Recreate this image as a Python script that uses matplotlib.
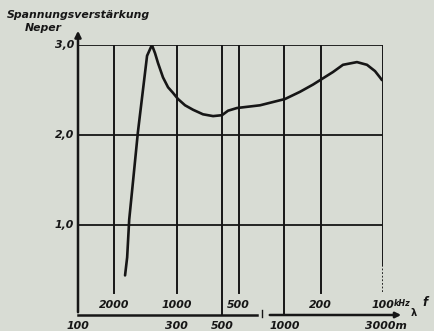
import matplotlib
matplotlib.use("Agg")
import matplotlib.pyplot as plt
import numpy as np

# Data
wavelength_m = [169, 173, 177, 185, 195, 216, 228, 236, 244, 258, 273, 288, 305, 330,
                361, 403, 451, 498, 533, 589, 761, 1006, 1189, 1374, 1536, 1718, 1920,
                2244, 2509, 2744, 2900, 2966]
gain_neper = [0.44, 0.64, 1.06, 1.50, 2.03, 2.88, 3.00, 2.91, 2.80, 2.64, 2.53, 2.47,
              2.40, 2.33, 2.28, 2.23, 2.21, 2.22, 2.27, 2.30, 2.33, 2.40, 2.48, 2.56,
              2.63, 2.70, 2.78, 2.81, 2.78, 2.71, 2.64, 2.61]
wavelength_ticks = [100, 300, 500, 1000, 3000]
wavelength_labels = ["100", "300", "500", "1000", "3000m"]
freq_ticks_khz = [2000, 1000, 500, 200, 100]
y_ticks = [1.0, 2.0, 3.0]
y_labels = ["1,0", "2,0", "3,0"]

bg = "#d8dcd4"
ink = "#161616"
fnt = dict(fontsize=7.8, fontweight="bold", fontstyle="italic", color=ink)

fig = plt.figure(figsize=(4.35, 3.31), dpi=100, facecolor=bg)
ax = fig.add_axes([78/435, 16/331, (383-78)/435, (315-45)/331])
ax.set_facecolor(bg)
ax.set_xscale("log")
ax.set_xlim(100, 3000)
ax.set_ylim(0, 3)
ax.axis("off")

def lx(px):
    """wavelength at a pixel offset px from the left axis"""
    return 100 * 10**(px / 206.5)

# horizontal grid
for yv in y_ticks:
    ax.plot([100, 3000], [yv, yv], color=ink, lw=1.3, solid_capstyle="butt")
# frequency grid lines (stop above labels)
ytop_lbl = (315 - 293) / 90
for f in freq_ticks_khz[:-1]:
    lam = 300000 / f
    ax.plot([lam, lam], [ytop_lbl, 3], color=ink, lw=1.4)
# wavelength grid lines 500 m and 1000 m
for lam in [500, 1000]:
    ax.plot([lam, lam], [0, 3], color=ink, lw=1.4)
# right border (100 kHz)
ax.plot([3000, 3000], [(315-265)/90, 3], color=ink, lw=1.4)
ax.plot([3000, 3000], [(315-292)/90, (315-265)/90], color=ink, lw=1.3, ls=(0, (1, 1)))

# y axis with arrow
ax.annotate("", xy=(100, 3 + 17/90), xytext=(100, 0),
            arrowprops=dict(arrowstyle="-|>", color=ink, lw=1.8, mutation_scale=9),
            annotation_clip=False)
# bottom axis, broken, with arrow
ax.plot([100, lx(257-78)], [0, 0], color=ink, lw=1.8, clip_on=False)
ax.plot([lx(262-78)] * 2, [-0.02, 0.06], color=ink, lw=1.0, clip_on=False)
ax.annotate("", xy=(lx(404-78), 0), xytext=(lx(267-78), 0),
            arrowprops=dict(arrowstyle="-|>", color=ink, lw=1.8, mutation_scale=8),
            annotation_clip=False)

# curve
ax.plot(wavelength_m, gain_neper, color=ink, lw=1.9, solid_capstyle="round",
        solid_joinstyle="round")

# labels
for yv, lab in zip(y_ticks, y_labels):
    ax.text(lx(-4), yv, lab, ha="right", va="center", **fnt)
for lam, lab in zip(wavelength_ticks, wavelength_labels):
    x = lam * 10**(3/206.5) if lab.endswith("m") else lam
    ax.text(x, -11/90, lab, ha="center", va="center", **fnt)
for f in freq_ticks_khz:
    lam = 300000 / f
    ax.text(lam, 10/90, str(f), ha="center", va="center", **fnt)
ax.text(3000 * 10**(11/206.5), 11/90, "kHz", ha="left", va="center", fontsize=5.8,
        fontweight="bold", fontstyle="italic", color=ink)
ax.text(3000 * 10**(39/206.5), 13/90, "f", ha="left", va="center", fontsize=8.5,
        fontweight="bold", fontstyle="italic", color=ink)
ax.text(3000 * 10**(31/206.5), 2/90, "λ", ha="center", va="center", fontsize=7,
        fontweight="bold", color=ink)

fig.text(7/435, 1 - 15/331, "Spannungsverstärkung", ha="left", va="center", **fnt)
fig.text(25/435, 1 - 28/331, "Neper", ha="left", va="center", **fnt)

fig.savefig("out.png", dpi=100, facecolor=bg)
